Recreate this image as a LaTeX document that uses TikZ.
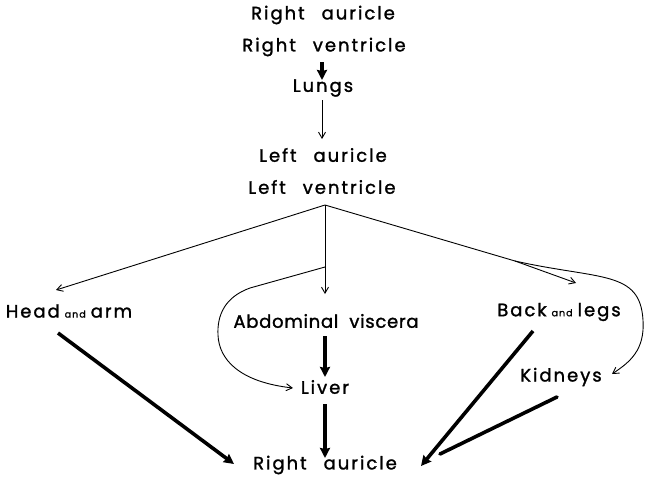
\documentclass[tikz,border=0pt]{standalone}
\usepackage{fontspec}
\setmainfont{Poppins}[LetterSpace=11,WordSpace=2.5,FakeBold=1.4]
\newfontfamily\avfont{Poppins}[LetterSpace=4,WordSpace=2,FakeBold=1.4]
\usetikzlibrary{arrows.meta}
\begin{document}
\begin{tikzpicture}[x=1pt,y=-1pt,
  lbl/.style={font=\fontsize{18}{20}\selectfont, inner sep=0pt},
  thin/.style={line width=0.9pt, -{Straight Barb[length=6pt,width=7pt]}},
  thinline/.style={line width=0.9pt},
  thick/.style={line width=3.6pt, -{Stealth[length=10pt,width=10pt,inset=1pt]}},
  thickline/.style={line width=3.6pt, line cap=round}]
\useasboundingbox (0,0) rectangle (646,480);
\newcommand{\sm}[1]{\hspace{5pt}{\fontsize{9.5}{10}\selectfont #1}\hspace{5pt}}
\node[lbl] (ra1) at (323,15) {Right auricle};
\node[lbl] (rv) at (324,47) {Right ventricle};
\node[lbl] (lu) at (323,88) {Lungs};
\node[lbl] (la) at (323,155) {Left auricle};
\node[lbl] (lv) at (322,187) {Left ventricle};
\node[lbl] (ha) at (69,311) {Head\sm{and}arm};
\node[lbl] (av) at (326,321) {\avfont Abdominal viscera};
\node[lbl] (bl) at (559,312) {Back\sm{and}legs};
\node[lbl] (li) at (325,387) {Liver};
\node[lbl] (ki) at (561,377) {Kidneys};
\node[lbl] (ra2) at (325,465) {Right auricle};
\coordinate (apex) at (325,205);
\coordinate (fork) at (325,267);
\coordinate (rfork) at (515,261);
\coordinate (haend) at (56,290);
\coordinate (blend) at (576,283);
\coordinate (kiend) at (612,374);
\coordinate (liend) at (293,388);
% top chain
\draw[thick] (322,62) -- (322,80);
\draw[thin] (322,100) -- (322,139);
% from left ventricle
\draw[thin] (apex) -- (haend);
\draw[thin] (apex) -- (325,294);
\draw[thinline] (apex) -- (rfork);
\draw[thin] (rfork) -- (blend);
\draw[thin] (rfork) .. controls (600,280) and (640,270) .. (643,320)
   .. controls (645,350) and (630,362) .. (kiend);
\draw[thin] (fork) -- (250,288) .. controls (225,297) and (217,315) .. (218,335)
   .. controls (219,360) and (240,382) .. (liend);
% to right auricle
\draw[thick] (325,336) -- (325,377);
\draw[thick] (325,404) -- (325,458);
\draw[thick] (58,333) -- (234,464);
\draw[thick] (533,331) -- (421,466);
\draw[thickline] (557,397) -- (440,454);
\end{tikzpicture}
\end{document}
